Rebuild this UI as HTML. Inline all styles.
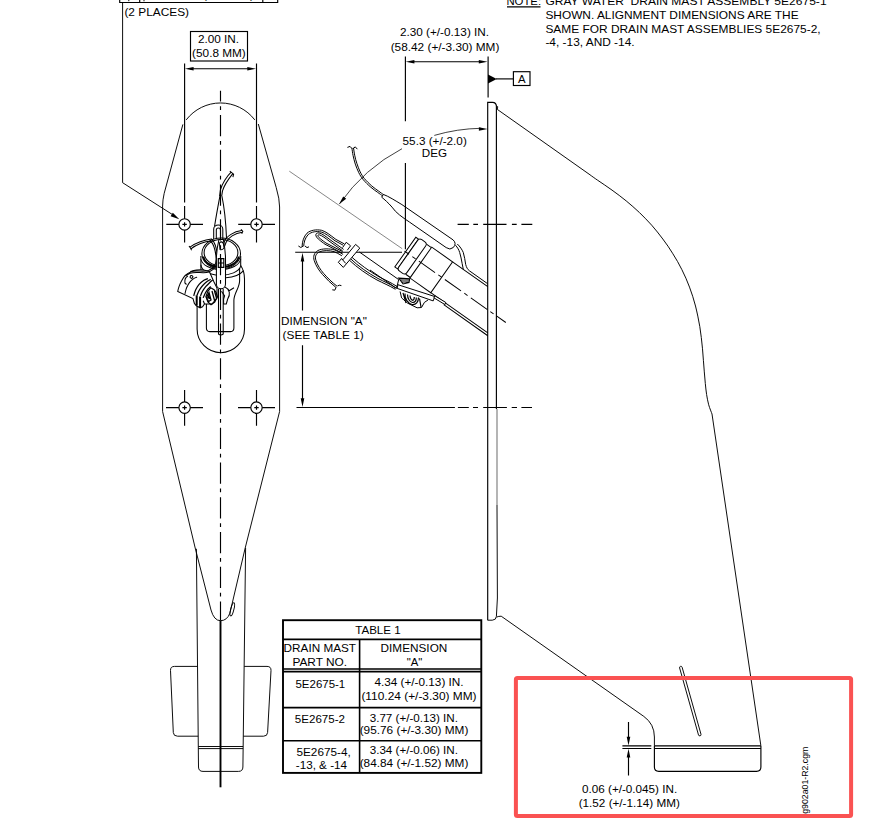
<!DOCTYPE html>
<html lang="en">
<head>
<meta charset="utf-8">
<title>Gray Water Drain Mast Assembly - Alignment Dimensions</title>
<style>
html,body{margin:0;padding:0;background:#fff;}
body{width:884px;height:828px;overflow:hidden;position:relative;}
svg{position:absolute;left:0;top:0;display:block;}
text{font-family:"Liberation Sans",Arial,sans-serif;font-size:11.4px;fill:#000;}
.l{stroke:#000;stroke-width:1.15;fill:none;stroke-linecap:butt;}
.t{stroke:#000;stroke-width:.95;fill:none;}
.h{stroke:#222;stroke-width:.55;fill:none;}
.k{stroke:#000;stroke-width:1.5;fill:none;}
.cl{stroke:#000;stroke-width:1.15;fill:none;stroke-dasharray:21.3 4.7 3.6 5.15;}
.a{fill:#000;stroke:none;}
</style>
</head>
<body>
<svg width="884" height="828" viewBox="0 0 884 828">
<rect x="0" y="0" width="884" height="828" fill="#fff"/>

<!-- ===== NOTE TEXT ===== -->
<g id="note">
<text x="506.4" y="5" textLength="34.7" lengthAdjust="spacingAndGlyphs">NOTE:</text>
<path class="l" d="M507 6.9H540.5"/>
<text x="545.4" y="5" textLength="281.2" lengthAdjust="spacingAndGlyphs">GRAY WATER&#160; DRAIN MAST ASSEMBLY 5E2675-1</text>
<text x="545.4" y="19.2" textLength="253.2" lengthAdjust="spacingAndGlyphs">SHOWN. ALIGNMENT DIMENSIONS ARE THE</text>
<text x="545.4" y="32.8" textLength="275.2" lengthAdjust="spacingAndGlyphs">SAME FOR DRAIN MAST ASSEMBLIES 5E2675-2,</text>
<text x="545.4" y="46.3" textLength="89.2" lengthAdjust="spacingAndGlyphs">-4, -13, AND -14.</text>
</g>

<!-- ===== TOP LEFT CUT-OFF FRAME + (2 PLACES) ===== -->
<g id="places">
<path class="l" d="M119.7 0V2.5H277.7V0M139.7 0V2.5M262.8 0V2.5"/>
<text x="203.2" y="-0.9" textLength="50.5" lengthAdjust="spacingAndGlyphs">(0.76 MM)</text>
<text x="124.4" y="16.3" textLength="64.7" lengthAdjust="spacingAndGlyphs">(2 PLACES)</text>
<path class="t" d="M122.6 2.6V182.7L175 216.2M128.8 0V1.2M144 0V1.3"/>
<path class="a" d="M179.3 219.3L170.6 216.2L172.8 212.8Z"/>
</g>

<!-- ===== LEFT VIEW ===== -->
<g id="leftview">
<!-- dimension box -->
<rect class="l" x="190.5" y="31.5" width="57" height="29.5"/>
<text x="197.9" y="43.2" textLength="41.2" lengthAdjust="spacingAndGlyphs">2.00 IN.</text>
<text x="192.1" y="56.8" textLength="53.7" lengthAdjust="spacingAndGlyphs">(50.8 MM)</text>
<path class="l" d="M184.6 63.5V202.5M184.6 206V218.7M256.5 63.5V202.5M256.5 206V218.7"/>
<path class="l" d="M190 68.7H251"/>
<path class="a" d="M184.9 68.7L193.6 66.9V70.5ZM256 68.7L247.3 66.9V70.5Z"/>
<!-- centerline -->
<!-- outline -->
<path class="t" d="M186.2 119.9A43.2 43.2 0 0 1 254.8 119.9M258.3 124L276.2 187.5Q279.6 199 279.6 207V411.5L245.2 548M182.9 124.4L164.2 193.3Q162.6 200 162.6 206V411.5L195.2 548"/>
<!-- lower body -->
<path class="t" d="M195.2 548L211 610Q214 620.7 220.5 620.7Q227 620.7 229.9 613.2L245.2 548"/>
<path class="t" d="M196.4 548.8L198.5 767Q198.6 771.4 203 771.4H238.5Q242.8 771.4 242.9 767L245.6 548"/>
<path class="l" style="stroke-width:.95" d="M198.3 746.5H243.1M198.3 748.6H243.1"/>
<path class="t" d="M197.5 666.4H174.5Q170.3 666.4 170.5 670.5L173.3 732.5Q173.5 736.2 177.5 736.2H198.2M244.2 666.4H267Q271.2 666.4 271 670.5L267.6 732.5Q267.4 736.2 263.5 736.2H243.3"/>
<ellipse class="t" cx="232.3" cy="609.3" rx="1.6" ry="6.8" transform="rotate(14 232.3 609.3)"/>
<!-- left view assembly -->
<g id="asmL" class="t" style="stroke-width:1.05;stroke:#000">
<!-- cylinder body / U shapes -->
<path d="M240.7 265.5C243 269 244.5 273 244.5 279V329A23.7 23.7 0 0 1 197.1 329V303" fill="#fff"/>
<path d="M239.6 268V281C239.4 288 234.2 293 233.9 300V328Q233.9 331.6 230.5 331.6H209.8Q206.4 331.6 206.4 328V300"/>
<!-- ring -->
<path d="M200.9 256V270M240.7 256V266" />
<path d="M200.9 264.8A20 10.5 0 0 0 240.7 266.2M226 277.8Q238 277 243.6 270.6"/>
<path d="M200.9 259A20 11.8 0 0 0 240.7 259" fill="#fff"/>
<ellipse cx="221.2" cy="253.5" rx="19.3" ry="15.5" fill="#fff"/>
<ellipse cx="221" cy="252.6" rx="16.9" ry="13.1"/>
<path d="M203.5 256.5A17.6 11.6 0 0 0 238.6 256.5" style="stroke-width:1.8"/>
<!-- top wire -->
<path d="M230.9 172.3C227.4 175.6 222 183.6 220.4 189.8L219.6 196M232.6 173.8C229.2 178 224.2 185.2 222.5 190.8L221.7 196M229.8 171.2L233.6 174.2L232.9 177.2"/>
<!-- cone -->
<path d="M220 195.6C218.6 203 216.5 214 214.6 226M221.9 196C224 206 225.8 220 226.5 238" />
<!-- loop clip -->
<path d="M213.7 239V229A4.55 4 0 0 1 222.8 229V239M216.3 239V230A2.1 2 0 0 1 220.5 230V239"/>
<!-- right wire -->
<path d="M241.6 230.6C234 231.6 226.5 236 224.4 241.5C223 245 222.3 247 221.9 250M242.2 232.2C235 233.2 228 237.5 226 242.5C224.6 246 223.9 248 223.5 250M241 229.4L242.8 231.4L241.7 233.8"/>
<!-- connector -->
<path d="M177.7 291.5C177.9 290.6 178.5 288.1 179.1 286.4C179.7 284.6 180.5 282.8 181.5 281.0C182.5 279.2 183.5 277.1 185.2 275.5C186.9 273.9 189.8 272.4 191.7 271.5C193.6 270.6 194.6 270.4 196.4 270.1C198.2 269.8 200.3 269.6 202.5 269.8C204.7 270.0 208.2 271.2 209.3 271.5L214 282L217 288V298L212 304L204.5 304L202.5 306.8L200.1 307.8L196.4 305.8L194.4 303.4L193 298.6L177.7 291.5Z" fill="#fff"/>
<path d="M184.9 293.9C185.2 292.9 185.8 289.7 186.6 287.8C187.4 285.9 188.4 283.8 189.6 282.3C190.8 280.8 192.4 279.5 193.7 278.6C194.9 277.8 196.5 277.4 197.1 277.2M187.9 275.9C185.5 277 184.5 279.5 184.9 283L186.5 284.5M190.3 276.2A1.3 1.3 0 1 0 192.7 277.6A1.3 1.3 0 1 0 190.3 276.2"/>
<path d="M193.7 295.9C194.0 294.9 194.8 291.7 195.7 289.8C196.6 287.9 197.7 286.0 199.1 284.4C200.5 282.8 202.4 281.3 203.9 280.3C205.4 279.3 207.2 278.9 207.9 278.6M197.1 295.2C197.4 294.4 198.2 292.1 199.1 290.5C200.0 288.9 201.1 287.2 202.5 285.7C203.9 284.2 205.9 282.4 207.3 281.3C208.7 280.2 210.1 279.6 210.7 279.3M200.5 295.9C200.8 295.1 201.6 292.8 202.5 291.2C203.4 289.6 204.7 287.9 205.9 286.4C207.2 284.9 208.9 283.4 210.0 282.3C211.1 281.2 212.2 280.4 212.7 280.0M203.2 297.9C203.5 297.1 204.4 294.7 205.2 293.2C206.0 291.7 207.0 290.2 207.9 289.1C208.8 288.0 210.2 286.8 210.7 286.4" style="stroke-width:1.25"/>
<path d="M196.7 295.2V305.6M200.1 296.6V307.4" style="stroke-width:2"/>
<path d="M203.2 300.7L204.5 304"/>
<path d="M205.9 296.6L207.9 291.2L210.7 287.8L214.1 289.8L216.1 292.5L217.4 296.6L214.7 302L211 304.7L207.9 302Z" style="stroke-width:1.2"/>
<path d="M206.5 297.5L209 292.5L211 300L208.5 301.5ZM212 291L214.7 301M214.5 291L216.5 298" style="stroke-width:1.3"/>
<path d="M207 298L209 293.5L210.5 299.5Z" fill="#000" stroke="none"/>
<!-- left wire S -->
<path d="M190 247.2C195 243 205 239.6 211.5 239C215 242 217 249 217.6 259C217.6 265 214 270 209 272C203 274 196 271 190 273.3L186 275.5M190.9 248.8C196 244.8 205 241.4 210.5 241C213.7 244 215.6 250 216.2 259C216.2 264 213 268.5 208.6 270.4C203 272.4 196 269.6 190.3 271.6M189 246L190.6 248.2L191.6 250.3"/>
<!-- slider -->
<path d="M219 239.4C217.4 246 216.4 252 216.4 259V284A4.55 4.7 0 0 0 225.5 284V259C225.5 252 224.6 246 223.3 239.4Z" fill="#fff"/>
<path d="M218.3 258.6H223.8V267.3H218.3ZM221 258.6V267.3M218.3 263H223.8" style="stroke-width:1.2"/>
<path d="M219.4 243Q221.5 240.5 223.4 243.5L224 248Q222 250.5 220 249.5Z"/>
<!-- rod below slider -->
<path d="M218.5 289V334Q220.8 336 223.2 334V289"/>
<!-- right knob -->
<path d="M224.9 287.1C227 288 228.6 289.8 229.3 292C229.8 294.5 229 297 227.6 299.3L226.3 304H223.6V299M221.5 291.2L224.6 295.9L223.6 299M228.3 291.2L234 287.8"/>
</g>
<path class="cl" d="M220.5 90.8V620.5" style="stroke-dashoffset:10.5"/>
<path class="k" d="M220.5 620.5V787.3" style="stroke-width:1.9"/>
<!-- holes -->
<g id="holes">
<circle class="l" cx="184.6" cy="224.4" r="5.7"/>
<path class="l" d="M166.3 224.4H178.9M190.3 224.4H203M182.4 224.4h4.4M184.6 222.2v4.4M184.6 230.1V242.4"/>
<circle class="l" cx="256.5" cy="224.4" r="5.7"/>
<path class="l" d="M238.2 224.4H250.8M262.2 224.4H275M254.3 224.4h4.4M256.5 222.2v4.4M256.5 230.1V242.4"/>
<circle class="l" cx="184.6" cy="407.6" r="5.7"/>
<path class="l" d="M166 407.6H178.9M190.3 407.6H203M182.4 407.6h4.4M184.6 405.4v4.4M184.6 413.3V425.8M184.6 390V401.9"/>
<circle class="l" cx="256.5" cy="407.6" r="5.7"/>
<path class="l" d="M238 407.6H250.8M262.2 407.6H275M254.3 407.6h4.4M256.5 405.4v4.4M256.5 413.3V425.8M256.5 390V401.9"/>
</g>
</g>

<!-- ===== RIGHT VIEW ===== -->
<g id="rightview">
<!-- 2.30 dimension -->
<text x="399.9" y="36.3" textLength="89.2" lengthAdjust="spacingAndGlyphs">2.30 (+/-0.13) IN.</text>
<text x="390.7" y="50.5" textLength="108.7" lengthAdjust="spacingAndGlyphs">(58.42 (+/-3.30) MM)</text>
<path class="l" d="M405.4 56.5V121.3M405.4 163V249.2M488.1 56.5V97.4"/>
<path class="l" d="M412 61.7H481"/>
<path class="a" d="M405.7 61.7L414.4 59.9V63.5ZM487.5 61.7L478.8 59.9V63.5Z"/>
<!-- datum A -->
<path class="a" d="M488 74.4L496.8 78.9L488 83.6Z"/>
<path class="l" d="M496 78.9H513.4"/>
<rect class="l" x="513.4" y="71.7" width="16.6" height="13.8"/>
<text x="518.1" y="82.9" textLength="7.6" lengthAdjust="spacingAndGlyphs">A</text>
<!-- plate -->
<path class="l" d="M487.7 620.3V102.3H492.5Q496.4 102.3 496.4 106.5V409"/>
<path d="M497 409V505" fill="none" stroke="#777" stroke-width="1.1"/>
<path class="t" d="M497 505L497.4 598"/>
<path class="t" d="M487.7 620.2H492.3Q496.2 620 496.4 616.4L497.4 598"/>
<path class="t" d="M496.4 105.5Q498.6 106 497.3 109.4"/>
<!-- angle -->
<path class="t" style="stroke-width:.75" d="M339.5 203.9A175.8 175.8 0 0 1 402 148.7M434.3 135.4A175.8 175.8 0 0 1 481 128.3"/>
<path class="a" d="M487.6 128.9L478.9 127.2V130.8Z"/>
<path class="a" d="M339 204.3L343.2 196.5L346.2 198.8Z"/>
<text x="402.6" y="144.8" textLength="64.2" lengthAdjust="spacingAndGlyphs">55.3 (+/-2.0)</text>
<text x="421.8" y="157.4" textLength="25.2" lengthAdjust="spacingAndGlyphs">DEG</text>
<path class="h" d="M289.3 171.2L402.2 248.7"/>
<!-- hole centerlines -->
<path class="l" d="M457.6 224.4H468.8M473.3 224.4H478M483.2 224.4H506.5M511.9 224.4H516.7M521.4 224.4H532.3"/>
<path class="l" d="M296.5 407.5H454.9M457.9 407.5H468.8M473 407.5H478M483.2 407.5H506.9M511.7 407.5H517M521.4 407.5H532"/>
<!-- dimension A -->
<path class="l" d="M295.2 252.2H402M302.5 258V310.6M302.5 345.2V401"/>
<path class="a" d="M302.5 252.8L300.7 261.5H304.3ZM302.5 407L300.7 398.3H304.3Z"/>
<text x="281.0" y="325" textLength="85.8" lengthAdjust="spacingAndGlyphs">DIMENSION "A"</text>
<text x="282.6" y="339.3" textLength="81.2" lengthAdjust="spacingAndGlyphs">(SEE TABLE 1)</text>
<!-- side view assembly -->
<g id="asmR" class="t" style="stroke-width:1;stroke:#000">
<!-- upper wire + sleeve -->
<path d="M351.9 147.9C352.1 149.2 352.5 152.9 353.1 155.6C353.7 158.3 354.4 161.2 355.3 164.1C356.3 166.9 357.5 170.1 358.8 172.7C360.1 175.2 361.1 177.1 363.1 179.5C365.1 181.9 368.3 185.1 370.8 187.2C373.2 189.3 375.6 190.9 377.6 192.3C379.6 193.8 381.8 195.3 382.6 195.9M353.5 147.7C353.7 148.9 354.1 152.6 354.7 155.2C355.2 157.9 355.9 160.8 356.9 163.5C357.8 166.3 359.0 169.5 360.2 171.9C361.5 174.4 362.4 176.1 364.3 178.5C366.3 180.8 369.5 183.9 371.8 186.0C374.2 188.1 376.6 189.6 378.6 191.1C380.5 192.5 382.7 194.1 383.6 194.7M347.4 147.4L350 146.4L352 148.6M353.2 148.8L355.2 146.8L357.4 149.2"/>
<path d="M383.3 194.4L381.7 197.2M383.3 194.4C389 196.5 395 200.5 401.9 204.6L453.1 239.9Q457 243.5 453.3 247.5Q450 250.5 446.2 247.6L409.4 222C402 217 396 213 392 207.1C388 202.5 384.5 199.5 381.7 197.2"/>
<path d="M455.5 245.2C457.5 247.5 459 250 459.7 252.5C460.8 256 461.5 260 462.1 263.3L463.3 269.4M457.3 244C460 246.5 462 249.5 463.3 252.5C464.5 256.5 465 260.5 465.7 264.5C466.5 267.5 467.5 269.3 469.4 270.8L487.6 283.7"/>
<g transform="translate(405.3 251.6) rotate(35.2)">
<path d="M0.3 -17.8H3.6V18.6H0.3Z" fill="#fff"/>
<path d="M3.6 -16.3Q3.6 -19.3 6.6 -19.3H10.4Q13.4 -19.3 13.4 -16.3V16.3Q13.4 19.3 10.4 19.3H6.6Q3.6 19.3 3.6 16.3Z" fill="#fff"/>
<path d="M13.4 -18.3H19M13.4 18.3H19"/>
<path d="M19 -18.9H44.5V18.9H19Z" fill="#fff"/>
<path d="M44.5 -18.9H87.6M44.5 18.9H114.3M62 21.2H115.9"/>
<path d="M-1 0H4.6M8.6 0H12.6M16.6 0H36.4M40.4 0H44.4M48.4 0H68.2M72.2 0H76.2M80.2 0H100.5M104 0H108M112 0H123" style="stroke-width:.95"/>
</g>
<!-- lower-left small pipe and cable bundle -->
<path d="M359.4 252L398.7 279.6L396.5 288.4L370 270M350.4 258.6C358 266 368 273 378 278.5C384 281.5 390 284 396 288M349.2 260C357 267.5 367 274.5 377 280C383 283 389 285.5 395.5 289.3M351.8 257.2C360 264.5 369 271 379 276.8C385 280 391 282.5 397 286.5"/>
<!-- bracket -->
<path d="M397.9 284.7L434.7 296.5L433.2 300.9L397.2 288.4Z" fill="#fff"/>
<path d="M434.7 295.7L445.7 302.4L445 304.6L434 297.9Z" fill="#fff"/>
<path d="M398.7 278.1L409.7 278.8L409 282.5L403.1 284ZM400 280H409.4M401 282H409" style="stroke-width:1.1"/>
<path d="M400.1 291.5L401.6 297.9L407.5 303.1L417.1 307.8L421.5 307.5L424.4 302.4L428 300" />
<path d="M405 293.5C404.5 299 408 303.5 412 304.5C416 305 418.5 302 418.5 297.5M407.5 294.5C407.5 299 410 302 412.5 302.5C415 302.7 416.5 300.5 416.3 297.5M410 295.5Q410.3 299.5 412.6 300.3Q414.3 300 414.3 297M403 292.8L406 303M419.5 298.5L421 307" style="stroke-width:1.2"/>
<!-- wires at left: W1, W2 (hairpin), W3 -->
<path d="M302.1 246.4C302.2 241.5 303.8 236.5 307 233.2C310.5 230 316.5 229.3 321.6 230.3C326 231.5 330 235 335.9 239.4L344.3 243.9M303.7 246.4C303.8 242 305.3 237.7 308.2 234.6C311.5 231.7 316.5 231 321.2 232C325.5 233.2 329.5 236.6 335 240.8L343.2 245.2M298.4 246L300.8 247.5L303 246.2M305 246L307 247.6L309 246.8"/>
<path d="M343.6 249.4L329.9 239.6C326 236.6 322 233.5 319 232.9C316.5 232.6 315.3 234.3 316 236C317 238.5 321 241.3 325 244.2L341.9 253M342.6 250.8L329 241C325.5 238.2 322 235.6 319.5 234.9C318 234.6 317.5 235.3 318 236.2C319 238 322 240.2 326 243L342.6 251.6"/>
<path d="M343.1 254.4C340 252.5 337 250.8 334.7 250C330 248.5 322 248.3 317.8 250.6C314 253 313 256.5 314.2 260.5C315.7 265.5 319 270.5 322.5 274.5C326.5 279 331 283.5 335.9 287.4M341.9 255.8C339 254 336.5 252.6 334.2 251.7C330 250.3 322.5 250.1 318.7 252.2C315.6 254.2 314.8 257 315.9 260.3C317.3 265 320.3 269.6 323.7 273.5C327.6 278 332 282.3 337 286.2M332.3 289.8L334.8 290.2L336.2 287.2M337.4 286L339.4 285.2L341.4 285.6"/>
<!-- tie clip -->
<path d="M355.6 244.4L359.8 248.1L343.3 267.4L338.3 262.3L341.6 258.6L342.9 259.8Z" fill="#fff"/>
<path d="M341.6 258.6L345.7 263.4"/>
<path d="M342.6 247.6L346.2 242.3L350.6 245.8L347.3 250.2" fill="#fff"/>
</g>
<!-- mast profile -->
<path class="t" d="M497.3 109.4L590.0 174.8C591.2 175.7 594.8 178.3 597.3 180.0C599.8 181.7 602.2 183.3 604.7 185.0C607.1 186.7 609.6 188.4 612.0 190.1C614.4 191.9 616.8 193.6 619.2 195.4C621.6 197.2 623.9 199.0 626.2 200.9C628.5 202.7 630.7 204.6 632.9 206.6C635.1 208.5 637.3 210.5 639.4 212.5C641.6 214.6 643.6 216.7 645.7 218.8C647.7 220.9 649.7 223.0 651.7 225.2C653.6 227.4 655.5 229.7 657.4 232.0C659.2 234.3 661.1 236.6 662.8 239.0C664.6 241.4 666.3 243.8 668.0 246.2C669.7 248.7 671.3 251.2 672.9 253.8C674.5 256.3 676.1 258.9 677.6 261.6C679.1 264.3 680.5 267.0 681.9 269.7C683.3 272.5 684.6 275.3 685.9 278.2C687.1 281.1 688.3 284.1 689.5 287.1C690.6 290.1 691.7 293.2 692.7 296.3C693.7 299.5 694.6 302.7 695.5 306.0C696.3 309.3 697.1 312.6 697.8 316.1C698.5 319.5 699.2 323.0 699.8 326.6C700.3 330.2 700.8 333.8 701.3 337.5C701.8 341.2 702.1 345.0 702.5 348.8C702.9 352.6 703.1 356.4 703.4 360.3C703.7 364.1 704.0 368.0 704.3 371.9C704.6 375.7 704.9 379.6 705.3 383.4C705.7 387.1 706.0 390.9 706.6 394.5C707.2 398.1 707.8 401.6 708.7 404.8C709.6 408.1 711.5 412.5 712.0 414.0L760.9 745.9"/>
<path class="t" d="M496.6 617.2Q497.5 616.3 501.2 616.2L643.8 716.4Q654.4 724 654.4 737V745.9"/>
<path class="l" d="M760.9 745.9V767Q760.9 771.3 756.5 771.3H658.8Q654.4 771.3 654.4 767V745.9"/>
<path class="l" d="M654.4 745.9H760.9M654.4 748.5H760.9"/>
<!-- rod -->
<path class="t" d="M679.6 667.9A1.3 1.3 0 0 1 682.1 667.2L701 734.3A1.3 1.3 0 0 1 698.5 735Z" fill="#fff"/>
<!-- 0.06 dim -->
<path class="l" d="M622.4 745.9H651.3M622.4 748.5H651.3M628.5 722V738M628.5 756V775.4"/>
<path class="a" d="M628.5 745.6L626.7 736.8H630.3ZM628.5 748.8L626.7 757.6H630.3Z"/>
<text x="582.0" y="792.5" textLength="95.2" lengthAdjust="spacingAndGlyphs">0.06 (+/-0.045) IN.</text>
<text x="578.7" y="806.5" textLength="101.2" lengthAdjust="spacingAndGlyphs">(1.52 (+/-1.14) MM)</text>
<!-- file id -->
<text transform="translate(808.2 818.6) rotate(-90)" x="0" y="0" style="font-size:9.7px" textLength="71.9" lengthAdjust="spacingAndGlyphs">ng902a01-R2.cgm</text>
</g>

<!-- ===== TABLE ===== -->
<g id="table">
<rect class="k" x="283" y="620.2" width="198.3" height="152.7" style="stroke-width:1.9"/>
<path class="l" style="stroke-width:1.6" d="M283 639.4H481.3M283 669H481.3M283 671.6H481.3M283 707.6H481.3M283 740.7H481.3M359.6 639.4V772.9"/>
<text x="355.2" y="634.1" textLength="45.5" lengthAdjust="spacingAndGlyphs">TABLE 1</text>
<text x="283.6" y="652.3" textLength="72.4" lengthAdjust="spacingAndGlyphs">DRAIN MAST</text>
<text x="292.4" y="665.5" textLength="54.7" lengthAdjust="spacingAndGlyphs">PART NO.</text>
<text x="380.6" y="652.3" textLength="66.7" lengthAdjust="spacingAndGlyphs">DIMENSION</text>
<text x="406.8" y="665.5" textLength="15.6" lengthAdjust="spacingAndGlyphs">"A"</text>
<text x="295.5" y="687.9" textLength="49.7" lengthAdjust="spacingAndGlyphs">5E2675-1</text>
<text x="374.4" y="685.9" textLength="89.2" lengthAdjust="spacingAndGlyphs">4.34 (+/-0.13) IN.</text>
<text x="361.4" y="699.6" textLength="115.2" lengthAdjust="spacingAndGlyphs">(110.24 (+/-3.30) MM)</text>
<text x="294.8" y="722.7" textLength="50.2" lengthAdjust="spacingAndGlyphs">5E2675-2</text>
<text x="369.7" y="721.5" textLength="88.2" lengthAdjust="spacingAndGlyphs">3.77 (+/-0.13) IN.</text>
<text x="359.7" y="734.4" textLength="108.7" lengthAdjust="spacingAndGlyphs">(95.76 (+/-3.30) MM)</text>
<text x="296.5" y="755.6" textLength="54.2" lengthAdjust="spacingAndGlyphs">5E2675-4,</text>
<text x="295.8" y="768.5" textLength="51.2" lengthAdjust="spacingAndGlyphs">-13, &amp; -14</text>
<text x="369.7" y="753.9" textLength="88.2" lengthAdjust="spacingAndGlyphs">3.34 (+/-0.06) IN.</text>
<text x="359.7" y="767.3" textLength="108.7" lengthAdjust="spacingAndGlyphs">(84.84 (+/-1.52) MM)</text>
</g>

<!-- ===== RED HIGHLIGHT ===== -->
<rect x="515.9" y="677.9" width="335.2" height="138.1" rx="1.5" fill="none" stroke="#fa5252" stroke-width="4"/>
</svg>
</body>
</html>
